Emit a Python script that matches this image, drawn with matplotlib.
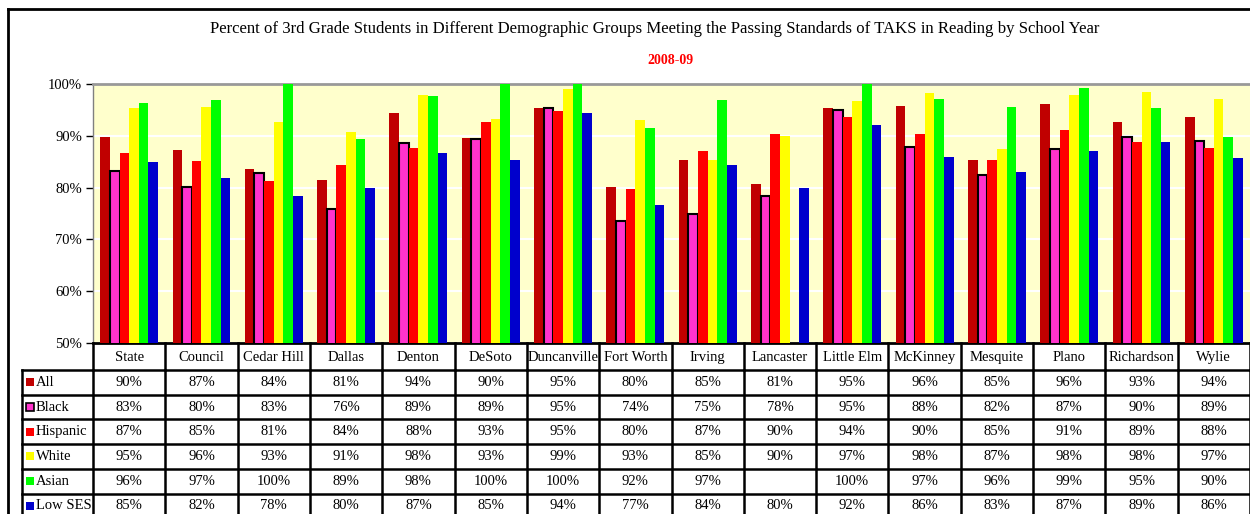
import numpy as np
import matplotlib
matplotlib.use("Agg")
import matplotlib.pyplot as plt
from matplotlib.patches import Rectangle
from matplotlib.lines import Line2D

plt.rcParams['font.family'] = ['Liberation Serif', 'DejaVu Serif']

districts = ['State', 'Council', 'Cedar Hill', 'Dallas', 'Denton', 'DeSoto', 'Duncanville',
             'Fort Worth', 'Irving', 'Lancaster', 'Little Elm', 'McKinney', 'Mesquite',
             'Plano', 'Richardson', 'Wylie']

groups = ['All', 'Black', 'Hispanic', 'White', 'Asian', 'Low SES']

all_vals      = [89.8, 87.3, 83.6, 81.4, 94.4, 89.6, 95.4, 80.2, 85.3, 80.6, 95.4, 95.8, 85.4, 96.2, 92.7, 93.7]
black_vals    = [83.3, 80.2, 82.9, 75.9, 88.6, 89.3, 95.4, 73.6, 75.0, 78.4, 95.0, 87.8, 82.4, 87.4, 89.8, 88.9]
hispanic_vals = [86.7, 85.1, 81.2, 84.4, 87.6, 92.6, 94.7, 79.7, 87.1, 90.4, 93.6, 90.4, 85.3, 91.1, 88.8, 87.6]
white_vals    = [95.4, 95.6, 92.6, 90.7, 97.9, 93.3, 99.0, 93.1, 85.4, 90.0, 96.8, 98.3, 87.4, 97.9, 98.4, 97.2]
asian_vals    = [96.3, 97.0, 100.0, 89.4, 97.7, 100.0, 100.0, 91.6, 97.0, np.nan, 100.0, 97.2, 95.6, 99.3, 95.4, 89.8]
lowses_vals   = [84.9, 81.9, 78.4, 79.9, 86.7, 85.3, 94.4, 76.6, 84.4, 80.0, 92.0, 85.9, 83.0, 87.1, 88.8, 85.7]

series = [all_vals, black_vals, hispanic_vals, white_vals, asian_vals, lowses_vals]
colors = ['#C00000', '#FF33CC', '#FF0000', '#FFFF00', '#00FF00', '#0000CC']

W, H = 1250, 514
fig = plt.figure(figsize=(W / 100, H / 100), dpi=100)

# plot area in pixels
px_left, px_right, px_top, px_bot = 93, 1250, 84, 343
ax = fig.add_axes([px_left / W, 1 - px_bot / H, (px_right - px_left) / W, (px_bot - px_top) / H])
ax.set_facecolor('#FFFFCC')

n = len(districts)
x = np.arange(n)
bw = 1 / 7.5
for i, (vals, c) in enumerate(zip(series, colors)):
    if groups[i] == 'Black':
        ax.bar(x + (i - 2.5) * bw, vals, bw, color=c, edgecolor='black', linewidth=1.5, zorder=3)
    else:
        ax.bar(x + (i - 2.5) * bw, vals, bw, color=c, linewidth=0, zorder=3)

ax.set_xlim(-0.5, n - 0.5)
ax.set_ylim(50, 100)
ax.set_yticks(np.arange(50, 101, 10))
ax.set_yticklabels([f'{v}%' for v in range(50, 101, 10)], fontsize=10.5)
ax.yaxis.grid(True, color='white', linewidth=1.5, zorder=1)
ax.set_axisbelow(True)
ax.tick_params(axis='y', direction='out', length=5, width=1, pad=3)
ax.set_xticks([])
ax.spines['top'].set_color('#999999')
ax.spines['top'].set_linewidth(2)
ax.spines['right'].set_visible(False)
ax.spines['left'].set_color('#808080')
ax.spines['left'].set_linewidth(1)
ax.spines['bottom'].set_color('black')
ax.spines['bottom'].set_linewidth(2)

fig.text(655 / W, 1 - 29 / H,
         'Percent of 3rd Grade Students in Different Demographic Groups Meeting the Passing Standards of TAKS in Reading by School Year',
         ha='center', va='center', fontsize=12.1)
fig.text(670 / W, 1 - 60 / H, '2008-09', ha='center', va='center', fontsize=10,
         color='#FF0000', fontweight='bold')

# data table under the chart
cw = (px_right - px_left) / n
lab_left = 22
tab = fig.add_axes([lab_left / W, 0, (px_right - lab_left) / W, (H - px_bot) / H])
x0 = -0.5 - (px_left - lab_left) / cw
tab.set_xlim(x0, n - 0.5)
tab.set_ylim(H - px_bot, 0)
tab.axis('off')

hdr = 27
rh = 24.7
bounds = np.arange(n + 1) - 0.5

# header
for b in bounds:
    tab.plot([b, b], [0, hdr], color='black', lw=1.8, clip_on=False)
for j, d in enumerate(districts):
    tab.text(j, hdr / 2 + 1, d, ha='center', va='center', fontsize=10.5)

nrows = len(groups)
ybot = hdr + rh * nrows
for r in range(nrows + 1):
    yy = hdr + rh * r
    tab.plot([x0, n - 0.5], [yy, yy], color='black', lw=1.8, clip_on=False)
for b in [x0] + list(bounds):
    tab.plot([b, b], [hdr, ybot], color='black', lw=1.8, clip_on=False)

sq = 8 / cw
for r, (g, vals, c) in enumerate(zip(groups, series, colors)):
    yc = hdr + rh * r + rh / 2
    ec = 'black' if g == 'Black' else c
    tab.add_patch(Rectangle((x0 + 4 / cw, yc - 4), sq, 8, facecolor=c, edgecolor=ec,
                            linewidth=1.2 if g == 'Black' else 0, clip_on=False))
    tab.text(x0 + 14 / cw, yc, g, ha='left', va='center', fontsize=10.5)
    for j, v in enumerate(vals):
        if not np.isnan(v):
            tab.text(j, yc, f'{int(np.floor(v + 0.5))}%', ha='center', va='center', fontsize=10.5)

# outer chart border
fig.add_artist(Line2D([8 / W, 8 / W], [0, 1 - 9 / H], color='black', lw=2, transform=fig.transFigure))
fig.add_artist(Line2D([8 / W, 1], [1 - 9 / H, 1 - 9 / H], color='black', lw=2, transform=fig.transFigure))

fig.savefig('out.png', dpi=100)
